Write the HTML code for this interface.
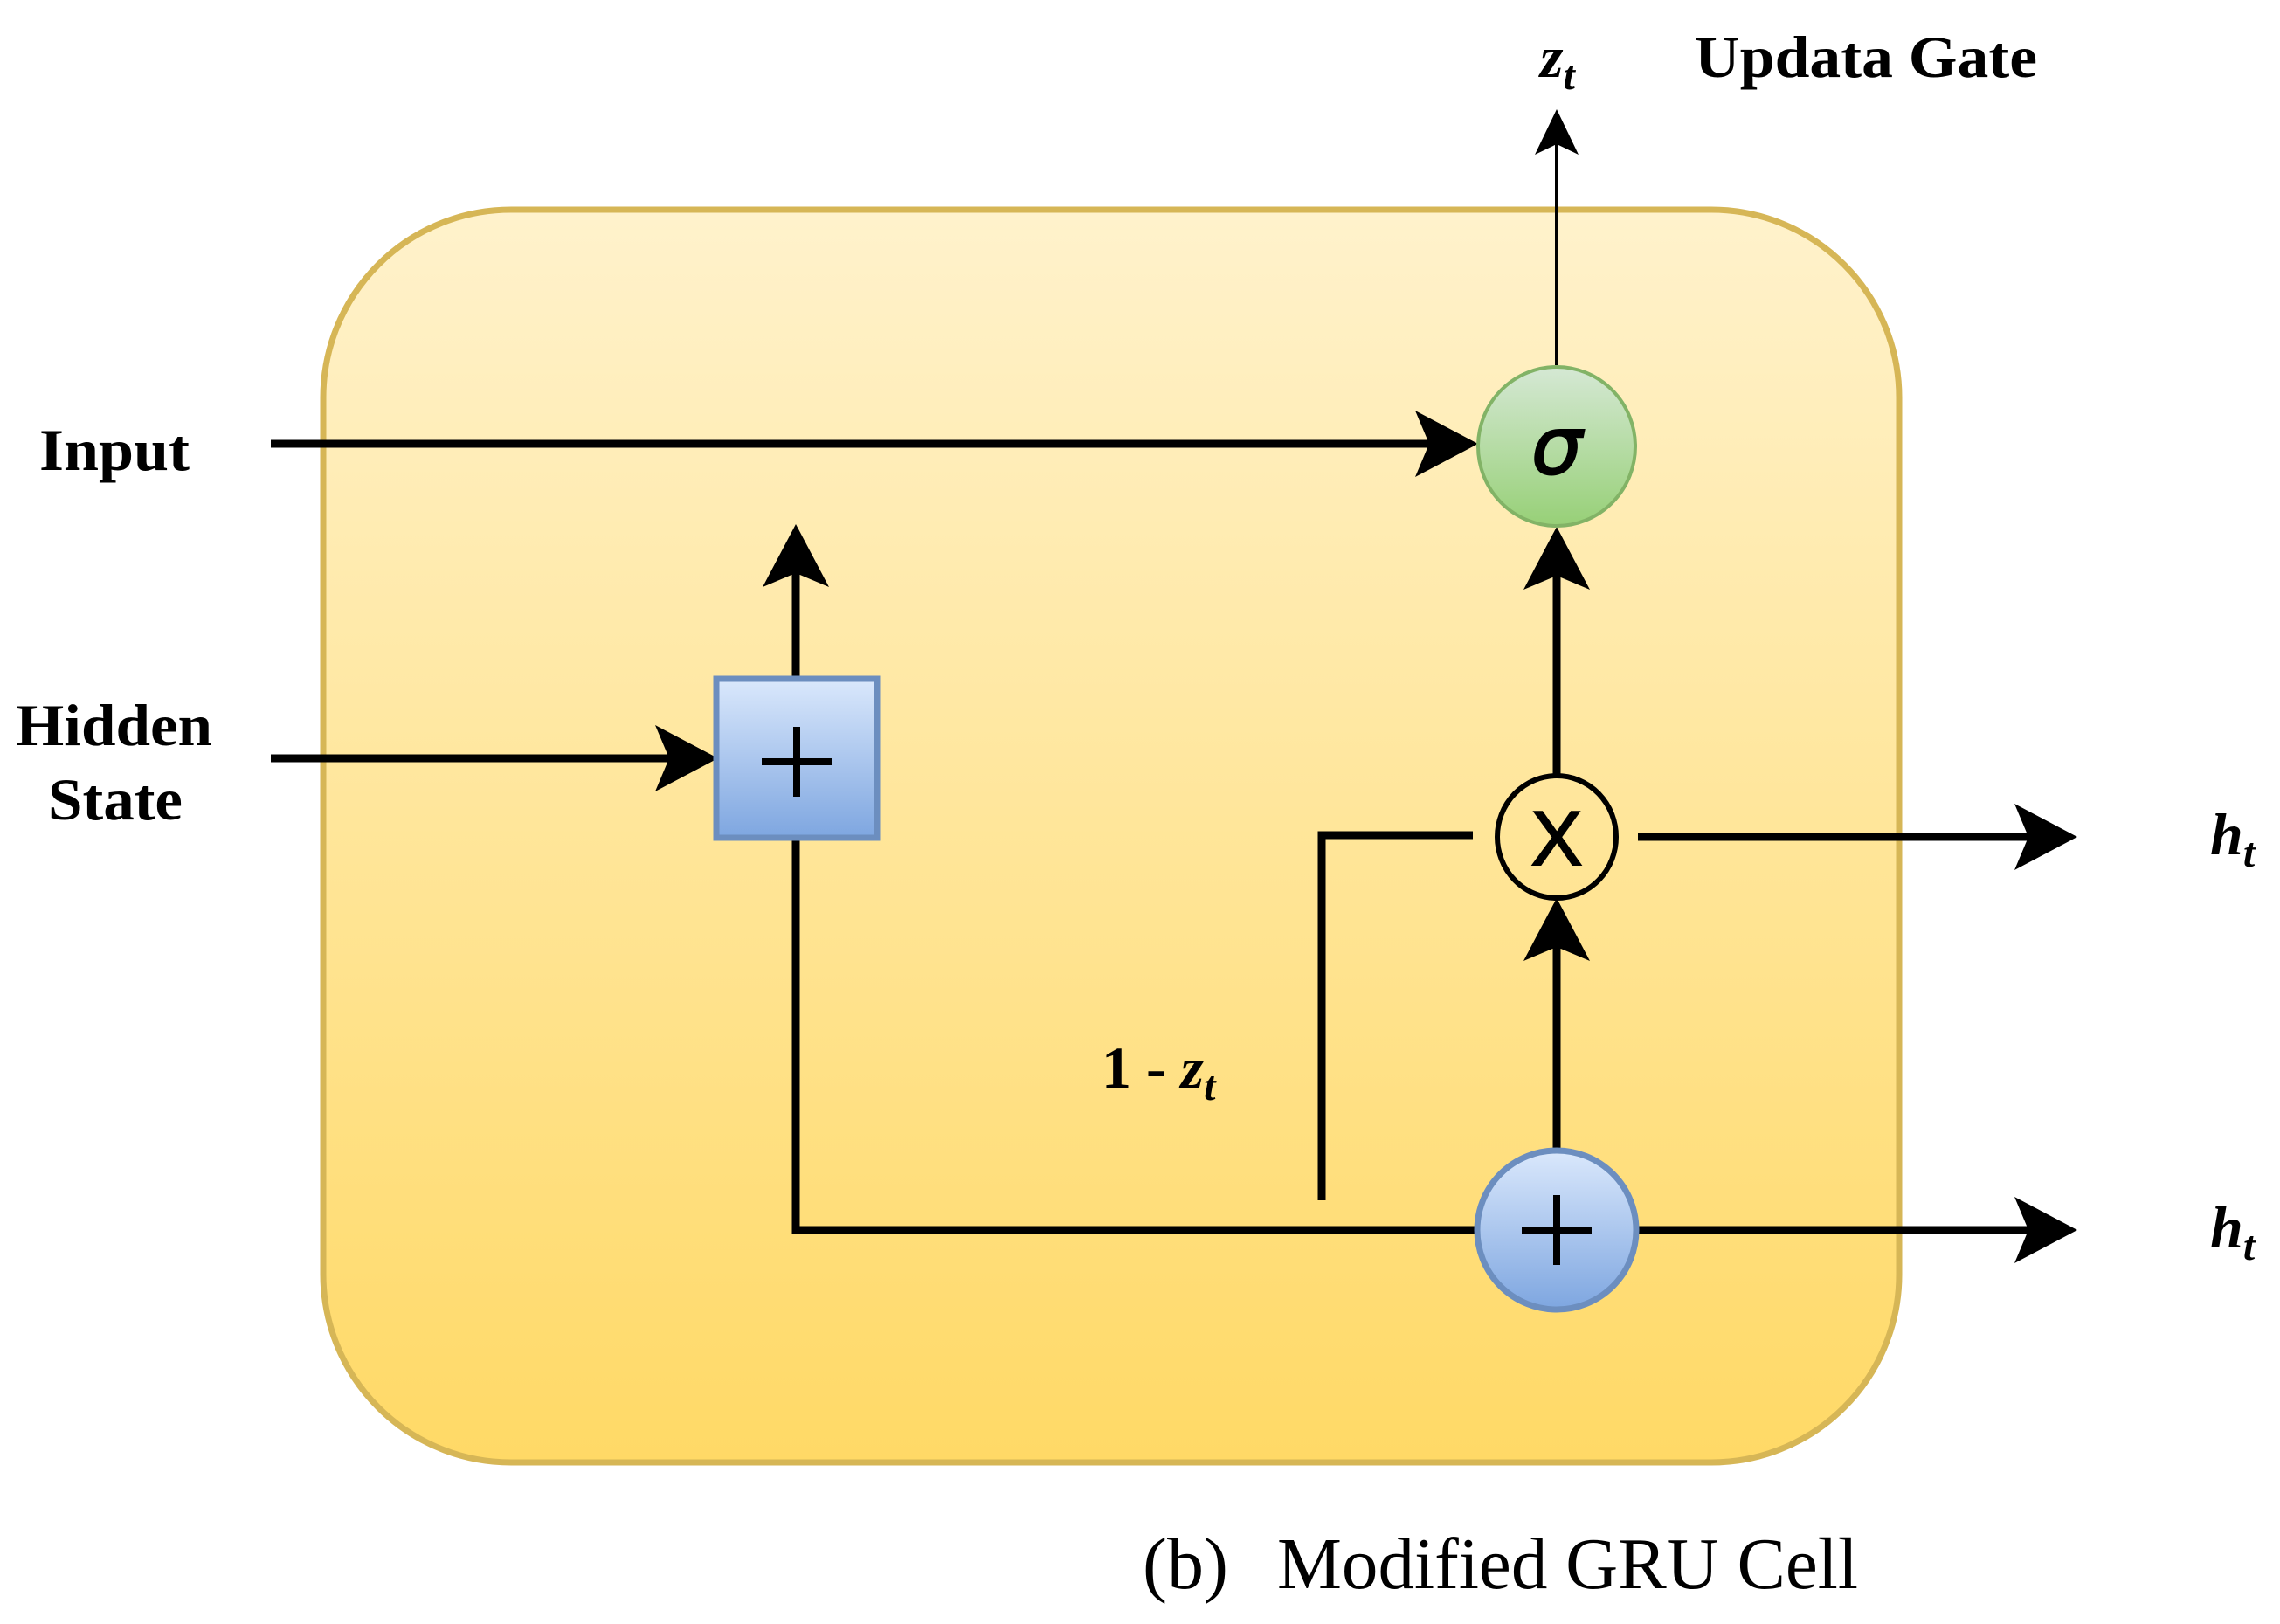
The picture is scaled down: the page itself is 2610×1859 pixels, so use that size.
<!DOCTYPE html>
<html><head><meta charset="utf-8"><style>html,body{margin:0;padding:0;background:#fff}svg{display:block}</style></head>
<body>
<svg width="2610" height="1859" viewBox="0 0 2610 1859" xmlns="http://www.w3.org/2000/svg">
<defs>
<linearGradient id="bg" x1="0" y1="0" x2="0" y2="1"><stop offset="0" stop-color="#fff2cc"/><stop offset="1" stop-color="#ffd966"/></linearGradient>
<linearGradient id="gr" x1="0" y1="0" x2="0" y2="1"><stop offset="0" stop-color="#d5e8d4"/><stop offset="1" stop-color="#97d077"/></linearGradient>
<linearGradient id="bl" x1="0" y1="0" x2="0" y2="1"><stop offset="0" stop-color="#dae8fc"/><stop offset="1" stop-color="#7ea6e0"/></linearGradient>
</defs>
<rect x="370" y="240" width="1804" height="1434" rx="215" fill="url(#bg)" stroke="#d6b656" stroke-width="7"/>
<g stroke="#000" stroke-width="9" fill="none">
<line x1="310" y1="508" x2="1650" y2="508"/>
<line x1="310" y1="868" x2="780" y2="868"/>
<line x1="911" y1="775" x2="911" y2="640"/>
<polyline points="911,960 911,1408 1690,1408"/>
<line x1="1782" y1="1316" x2="1782" y2="1065"/>
<line x1="1782" y1="888" x2="1782" y2="640"/>
<line x1="1782" y1="418" x2="1782" y2="160" stroke-width="4"/>
<line x1="1875" y1="958" x2="2330" y2="958"/>
<line x1="1874" y1="1408" x2="2330" y2="1408"/>
<polyline points="1513,1374 1513,956 1686,956"/>
</g>
<g fill="#000">
<polygon points="1692,508 1620,470 1636,508 1620,546"/>
<polygon points="822,868 750,830 766,868 750,906"/>
<polygon points="911,600 873,672 911,656 949,672"/>
<polygon points="1782,603 1744,675 1782,659 1820,675"/>
<polygon points="1782,1028 1744,1100 1782,1084 1820,1100"/>
<polygon points="1782,125 1757,177 1782,165 1807,177"/>
<polygon points="2378,958 2306,920 2322,958 2306,996"/>
<polygon points="2378,1408 2306,1370 2322,1408 2306,1446"/>
</g>
<ellipse cx="1782" cy="511" rx="90" ry="91" fill="url(#gr)" stroke="#82b366" stroke-width="4"/>
<text x="1782" y="542" font-family="DejaVu Sans, sans-serif" font-size="92" text-anchor="middle" font-style="italic" stroke="#000" stroke-width="2">σ</text>
<ellipse cx="1782" cy="958" rx="68" ry="70" fill="none" stroke="#000" stroke-width="6"/>
<text x="1782" y="990" font-family="Liberation Sans, sans-serif" font-size="88" text-anchor="middle" stroke="#000" stroke-width="2">X</text>
<ellipse cx="1782" cy="1408" rx="91" ry="91" fill="url(#bl)" stroke="#6c8ebf" stroke-width="7"/>
<g stroke="#000" stroke-width="8"><line x1="1742" y1="1408" x2="1822" y2="1408"/><line x1="1782" y1="1368" x2="1782" y2="1448"/></g>
<rect x="820" y="777" width="184" height="182" fill="url(#bl)" stroke="#6c8ebf" stroke-width="7"/>
<g stroke="#000" stroke-width="8"><line x1="872" y1="872" x2="952" y2="872"/><line x1="912" y1="832" x2="912" y2="912"/></g>
<g font-family="Liberation Serif, serif" font-weight="bold" font-size="68" fill="#000">
<text x="45" y="538" textLength="172" lengthAdjust="spacingAndGlyphs">Input</text>
<text x="18" y="853" textLength="225" lengthAdjust="spacingAndGlyphs">Hidden</text>
<text x="55" y="938" textLength="154" lengthAdjust="spacingAndGlyphs">State</text>
<text x="1940" y="88" textLength="392" lengthAdjust="spacingAndGlyphs">Updata Gate</text>
<text x="1763" y="88" font-style="italic">z<tspan font-size="48" dy="14">t</tspan></text>
<text x="1261" y="1245">1 - <tspan font-style="italic">z</tspan><tspan font-style="italic" font-size="48" dy="14">t</tspan></text>
<text x="2530" y="978" font-style="italic">h<tspan font-size="48" dy="14">t</tspan></text>
<text x="2530" y="1428" font-style="italic">h<tspan font-size="48" dy="14">t</tspan></text>
</g>
<text x="1308" y="1818" font-family="Liberation Serif, serif" font-size="84" fill="#000">(b)</text>
<text x="1462" y="1818" font-family="Liberation Serif, serif" font-size="84" fill="#000" textLength="665" lengthAdjust="spacingAndGlyphs">Modified GRU Cell</text>
</svg>
</body></html>
